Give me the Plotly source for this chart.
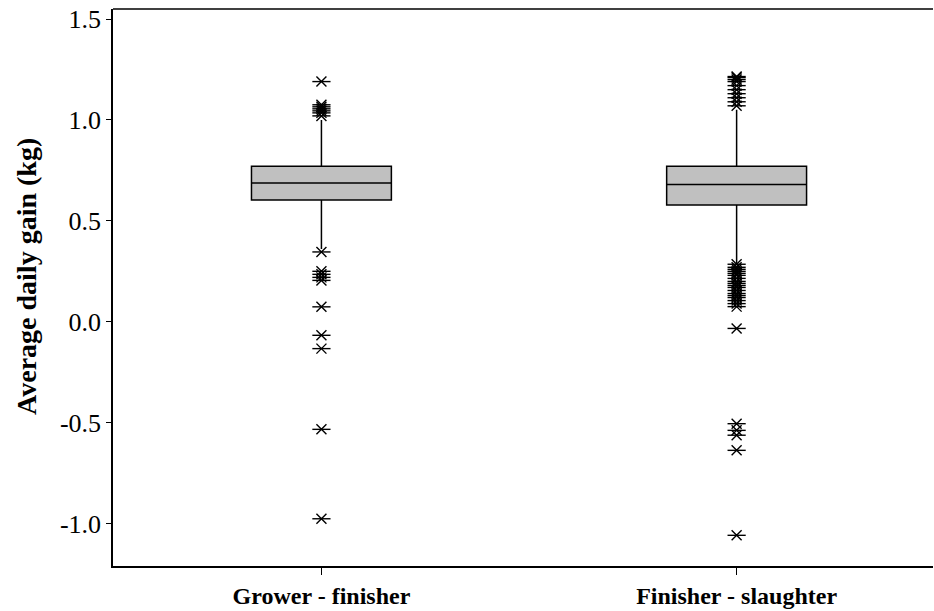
import plotly.graph_objects as go

categories = ["Grower - finisher", "Finisher - slaughter"]
q1 = [0.603, 0.578]
median = [0.688, 0.680]
q3 = [0.771, 0.771]
lower_whisker = [0.36, 0.29]
upper_whisker = [1.00, 1.05]

grower_outliers = [1.19, 1.075, 1.065, 1.055, 1.045, 1.035, 1.02,
                   0.346, 0.25, 0.235, 0.22, 0.205, 0.074, -0.067, -0.133,
                   -0.533, -0.976]
finisher_outliers = [1.215, 1.21, 1.20, 1.19, 1.17, 1.15, 1.13, 1.11, 1.09, 1.07,
                     0.285, 0.27, 0.26, 0.25, 0.24, 0.23, 0.215, 0.20, 0.19, 0.18,
                     0.17, 0.155, 0.14, 0.13, 0.12, 0.105, 0.09, 0.075,
                     -0.033, -0.505, -0.538, -0.562, -0.637, -1.058]

y_ticks = [-1.0, -0.5, 0.0, 0.5, 1.0, 1.5]

fig = go.Figure()
fig.add_trace(go.Box(
    x=categories, q1=q1, median=median, q3=q3,
    lowerfence=lower_whisker, upperfence=upper_whisker,
    fillcolor="#c0c0c0", line=dict(color="black", width=1.5),
    whiskerwidth=0, width=0.337, boxpoints=False, showlegend=False,
))

out_x = [categories[0]] * len(grower_outliers) + [categories[1]] * len(finisher_outliers)
out_y = grower_outliers + finisher_outliers
fig.add_trace(go.Scatter(
    x=out_x, y=out_y, mode="markers", showlegend=False,
    marker=dict(symbol="x-thin-open", size=10, color="black",
                line=dict(color="black", width=1.4)),
))
fig.add_trace(go.Scatter(
    x=out_x, y=out_y, mode="markers", showlegend=False,
    marker=dict(symbol="line-ew-open", size=13, color="black",
                line=dict(color="black", width=1.4)),
))

fig.update_layout(
    width=934, height=611,
    margin=dict(l=113, r=1, t=9, b=45),
    paper_bgcolor="white", plot_bgcolor="white",
    font=dict(family="Liberation Serif", color="black"),
)
fig.update_xaxes(
    type="category", range=[-0.502, 1.473], automargin=False,
    showline=True, linecolor="black", linewidth=1.5, mirror=False,
    ticks="outside", ticklen=7, tickwidth=1.3, tickcolor="black",
    tickfont=dict(size=24, family="Liberation Serif", weight="bold"),
    showgrid=False, zeroline=False,
)
fig.update_yaxes(
    range=[-1.21, 1.5496], tickvals=y_ticks, ticktext=[f"{v:.1f}" for v in y_ticks],
    automargin=False,
    showline=True, linecolor="black", linewidth=1.5,
    ticks="outside", ticklen=5, tickwidth=1.3, tickcolor="black",
    tickfont=dict(size=26, family="Liberation Serif"),
    showgrid=False, zeroline=False,
)
fig.add_annotation(
    text="Average daily gain (kg)", textangle=-90,
    xref="paper", yref="paper", x=0, y=0.519, xanchor="center", yanchor="middle",
    xshift=-86, showarrow=False,
    font=dict(size=28, family="Liberation Serif", weight="bold", color="black"),
)
# top border line
fig.add_shape(type="line", xref="paper", yref="paper", x0=0, x1=1, y0=1, y1=1,
              line=dict(color="black", width=1.5))

fig.write_html("out.html")
